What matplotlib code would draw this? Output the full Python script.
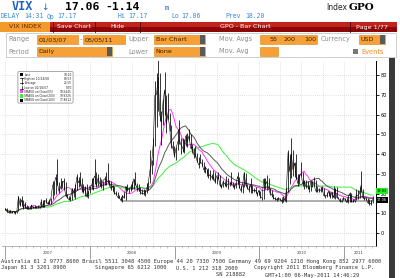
import numpy as np
import pandas as pd
import matplotlib
matplotlib.use("Agg")
import matplotlib.pyplot as plt
import matplotlib.dates as mdates
from matplotlib.patches import Rectangle, FancyBboxPatch

# weekly VIX bars (high / low / close), weeks ending Friday, Jan 2007 - May 2011
first_week = "2007-01-05"
vix_high = [
    # 2007
    12.75, 12.5, 11.3, 11.6, 11.3, 11.2, 11.2, 11.2, 19.0, 18.0, 18.9, 16.5, 15.5,
    14.0, 13.6, 13.2, 14.4, 13.8, 14.0, 13.6, 14.1, 13.8, 17.4, 16.5, 16.9, 17.9,
    16.3, 17.5, 18.0, 26.5, 26.0, 30.0, 37.5, 26.0, 28.0, 26.5, 28.0, 26.0, 20.0,
    19.0, 18.5, 22.9, 23.0, 25.0, 30.0, 28.5, 31.1, 28.0, 25.0, 24.0, 25.0, 21.5,
    # 2008
    24.0, 28.0, 28.0, 37.6, 31.0, 30.0, 28.5, 27.5, 26.6, 29.0, 31.0, 35.6, 27.0,
    26.5, 24.5, 24.0, 21.5, 21.0, 19.5, 18.5, 19.5, 20.5, 24.0, 25.0, 23.0, 25.0,
    26.5, 27.5, 30.8, 25.5, 25.0, 23.5, 22.5, 22.5, 22.0, 25.5, 26.0, 42.2, 37.0,
    48.4, 76.9, 81.2, 89.5, 81.0, 62.0, 68.0, 81.5, 70.0, 71.0, 61.0, 55.0, 46.5,
    # 2009
    44.0, 43.5, 52.7, 57.4, 48.0, 48.0, 47.5, 50.0, 51.0, 53.0, 50.0, 45.0, 43.0,
    44.0, 40.5, 38.5, 40.0, 37.5, 36.0, 34.0, 32.5, 33.0, 32.0, 30.0, 32.0, 31.0,
    29.0, 31.0, 29.5, 25.0, 27.0, 26.5, 29.0, 28.0, 26.0, 31.0, 26.0, 25.0, 26.0,
    31.0, 28.5, 24.5, 25.0, 31.0, 30.5, 25.0, 24.5, 28.0, 24.5, 23.0, 23.5, 21.0,
    # 2010
    22.0, 21.5, 18.5, 28.0, 28.0, 29.2, 28.0, 23.0, 22.0, 20.0, 18.5, 18.0, 18.5,
    18.0, 17.5, 18.5, 18.5, 22.8, 42.2, 40.0, 48.2, 42.0, 36.0, 40.0, 30.0, 30.0,
    36.0, 31.0, 27.0, 27.0, 26.5, 24.0, 26.5, 26.5, 28.5, 27.0, 24.0, 23.0, 23.5,
    24.0, 23.0, 19.5, 21.0, 21.5, 21.0, 21.0, 24.0, 23.0, 23.5, 18.5, 18.0, 17.0, 18.5,
    # 2011
    18.0, 17.5, 19.0, 21.0, 20.5, 17.5, 17.0, 22.5, 22.0, 23.5, 31.3, 22.5, 18.5,
    18.0, 18.0, 17.5, 16.5, 19.0,
]
vix_low = [
    # 2007
    11.5, 10.6, 10.0, 9.9, 10.1, 10.0, 9.7, 10.0, 11.0, 13.5, 13.5, 12.3, 12.8,
    12.2, 12.0, 12.0, 12.2, 12.6, 12.7, 12.6, 12.8, 12.7, 13.3, 13.0, 13.2, 15.0,
    14.5, 14.5, 14.8, 17.5, 19.5, 20.0, 24.5, 20.5, 22.5, 23.0, 22.0, 19.0, 17.9,
    16.9, 16.1, 17.0, 18.5, 17.5, 22.0, 23.5, 24.0, 20.8, 20.3, 18.6, 18.3, 18.0,
    # 2008
    20.5, 22.5, 22.0, 25.0, 23.5, 24.0, 24.0, 23.0, 21.8, 24.5, 24.5, 25.5, 24.0,
    21.6, 21.5, 20.0, 19.5, 17.8, 17.6, 16.3, 15.8, 17.8, 17.0, 21.5, 20.5, 21.5,
    22.5, 22.5, 24.5, 21.5, 21.5, 20.0, 19.7, 19.5, 19.0, 20.5, 22.0, 25.5, 30.0,
    34.5, 44.0, 54.0, 62.0, 57.0, 44.5, 55.0, 60.0, 51.0, 58.0, 52.0, 43.0, 42.0,
    # 2009
    38.5, 37.2, 42.0, 45.0, 40.0, 41.0, 40.5, 44.0, 43.5, 47.0, 42.5, 40.5, 38.0,
    38.5, 36.0, 33.0, 35.5, 34.0, 31.0, 30.5, 29.0, 28.0, 27.0, 27.5, 27.0, 25.5,
    25.0, 27.5, 24.0, 23.0, 23.5, 24.0, 23.5, 22.5, 24.0, 24.5, 23.5, 22.5, 23.0,
    25.0, 23.0, 21.0, 20.5, 23.5, 24.0, 22.5, 21.0, 20.5, 20.5, 21.0, 20.5, 19.0,
    # 2010
    19.5, 18.0, 16.9, 17.5, 22.5, 22.0, 22.5, 19.5, 19.0, 17.4, 16.8, 16.0, 16.5,
    16.5, 15.2, 15.5, 16.0, 15.5, 21.0, 25.0, 28.0, 29.0, 28.5, 27.5, 23.8, 25.0,
    29.0, 24.0, 22.5, 23.0, 22.5, 21.0, 21.5, 23.5, 24.0, 21.0, 21.0, 21.0, 21.0,
    21.5, 18.7, 18.0, 18.5, 19.0, 18.0, 18.0, 18.0, 17.5, 18.0, 17.5, 15.5, 15.5, 16.5,
    # 2011
    16.9, 15.5, 15.3, 15.8, 15.8, 15.5, 15.5, 16.5, 17.5, 18.0, 21.0, 18.0, 16.5,
    16.5, 15.3, 14.3, 14.3, 15.0,
]
vix_close = [
    # 2007
    12.1, 10.7, 10.4, 11.1, 10.1, 11.1, 10.0, 11.2, 18.6, 14.0, 16.8, 12.8, 14.6,
    12.3, 12.2, 12.1, 14.2, 12.9, 13.0, 12.9, 13.3, 13.1, 15.9, 13.3, 16.4, 16.2,
    14.8, 15.2, 17.7, 24.2, 25.2, 28.3, 25.0, 21.0, 23.4, 26.2, 26.1, 19.0, 18.0,
    17.0, 17.4, 22.4, 20.5, 23.0, 28.5, 25.5, 26.8, 22.9, 20.9, 22.6, 18.5, 20.3,
    # 2008
    23.9, 24.0, 27.2, 29.0, 24.0, 28.0, 25.0, 24.1, 26.5, 27.5, 27.0, 26.0, 25.7,
    22.5, 23.8, 20.1, 20.0, 18.2, 18.1, 16.5, 19.0, 17.8, 23.6, 21.7, 22.2, 23.4,
    23.1, 27.5, 25.0, 22.9, 22.6, 20.7, 20.0, 19.8, 20.7, 22.6, 25.7, 32.1, 35.7,
    45.1, 69.9, 70.3, 79.1, 59.9, 56.1, 66.3, 72.7, 55.3, 59.9, 54.3, 44.9, 43.4,
    # 2009
    39.2, 42.8, 46.1, 47.3, 44.8, 43.4, 41.3, 49.3, 46.4, 49.3, 43.0, 43.6, 39.7,
    39.7, 36.5, 34.6, 35.8, 35.3, 32.1, 33.1, 32.6, 28.9, 29.6, 28.2, 28.5, 25.9,
    29.0, 29.0, 24.3, 23.1, 25.9, 25.0, 24.0, 25.0, 24.8, 25.3, 24.1, 23.0, 25.6,
    28.7, 23.1, 21.5, 24.5, 30.7, 24.2, 22.8, 21.7, 24.5, 21.3, 21.6, 21.7, 19.5,
    # 2010
    21.7, 18.1, 17.9, 27.3, 24.6, 26.1, 22.7, 20.0, 19.5, 17.4, 17.6, 16.9, 17.8,
    17.0, 16.1, 18.4, 16.6, 22.1, 40.9, 31.2, 40.1, 32.1, 35.5, 28.8, 25.1, 29.0,
    30.1, 24.9, 26.3, 23.5, 23.5, 22.1, 26.2, 25.5, 24.5, 21.3, 21.3, 22.0, 21.7,
    22.5, 18.9, 19.1, 19.0, 21.2, 18.3, 20.6, 18.0, 22.2, 18.0, 17.8, 16.1, 16.0, 17.8,
    # 2011
    17.1, 15.5, 18.5, 20.0, 15.9, 15.7, 16.4, 19.2, 19.0, 20.1, 24.4, 18.0, 17.4,
    17.9, 15.3, 15.0, 14.8, 17.06,
]

# moving averages: 55 / 200 / 100 trading days -> weeks
sma_weeks = [11, 40, 20]
sma_colors = ["#ff3cff", "#3cf03c", "#5a5a5a"]

y_levels = [0, 10, 20, 30, 40, 50, 60, 70, 80]
year_labels = ["2007", "2008", "2009", "2010", "2011"]
support_level = 16.0
support_from = "2008-05-20"

legend_labels = ["Last", "High on 10/24/08", "Average", "Low on 02/16/07",
                 "SMAVG on Close(55)", "SMAVG on Close(200)", "SMAVG on Close(100)"]
legend_values = ["18.20", "89.53", "25.55", "9.70", "18.5445", "19.9326", "17.8612"]
legend_marks = ["black", "tick", "plus", "tick", "#ff3cff", "#3cf03c", "black"]

MONO = "DejaVu Sans Mono"
ORANGE = "#f7a035"
GREYTXT = "#8c8c8c"

dates = pd.date_range(first_week, periods=len(vix_close), freq="W-FRI") - pd.Timedelta(days=2)
close = pd.Series(vix_close, index=dates)

fig = plt.figure(figsize=(4.0, 2.78), dpi=100)

# pixel-space background layer (header, form, footer)
bg = fig.add_axes([0, 0, 1, 1], zorder=0)
bg.set_xlim(0, 400)
bg.set_ylim(278, 0)
bg.axis("off")

# --- header line 1
bg.text(12, 7, "VIX", color="#2160c4", fontsize=8.5, fontweight="bold", family=MONO, va="center")
bg.text(41, 7, "\u2193", color="#2160c4", fontsize=6.5, va="center")
bg.text(65, 7, "17.06", color="black", fontsize=8.2, fontweight="bold", family=MONO, va="center")
bg.text(105, 7, "-1.14", color="black", fontsize=8.2, fontweight="bold", family=MONO, va="center")
bg.text(165, 8, "m", color="#2160c4", fontsize=5, family=MONO, va="center")
bg.text(326, 7, "Index", color="#222222", fontsize=5.5, va="center")
bg.text(349, 7, "GPO", color="black", fontsize=7.5, fontweight="bold", family="DejaVu Serif", va="center")

# --- header line 2
blue2 = "#3b8ad6"
for x, s in [(1, "DELAY"), (24, "14:31"), (47, "Op"), (57, "17.17"), (118, "Hi"),
             (128, "17.17"), (171, "Lo"), (181, "17.06"), (225, "Prev"), (245, "18.20")]:
    bg.text(x, 16.5, s, color=blue2, fontsize=4.7, family=MONO, va="center")

# --- red menu bar
bg.add_patch(Rectangle((0, 22), 397, 5, color="#c0241c", lw=0))
bg.add_patch(Rectangle((0, 27), 397, 5, color="#8c0808", lw=0))
bg.add_patch(Rectangle((0, 22), 50, 10, color="#f39a2c", lw=0))
bg.text(25, 27, "VIX INDEX", color="#6a2a00", fontsize=4.6, ha="center", va="center")
for x in [53, 95, 140, 350]:
    bg.plot([x, x], [22, 32], color="#4a0000", lw=0.6)
bg.text(74, 27, "Save Chart", color="white", fontsize=4.4, ha="center", va="center")
bg.text(117, 27, "Hide", color="white", fontsize=4.4, ha="center", va="center")
bg.text(245, 27, "GPO - Bar Chart", color="white", fontsize=4.6, ha="center", va="center")
bg.text(372, 27, "Page 1/77", color="white", fontsize=4.6, ha="center", va="center")

# --- option form
bg.add_patch(Rectangle((6, 32.5), 390, 24.5, facecolor="white", edgecolor="#c8c8c8", lw=0.6))


def field(x0, x1, y, text="", drop=False):
    bg.add_patch(Rectangle((x0, y - 4.2), x1 - x0, 8.4, facecolor=ORANGE, edgecolor="#d88418", lw=0.4))
    if text:
        bg.text(x0 + 1.5, y, text, color="#3a2200", fontsize=4.6, va="center")
    if drop:
        bg.add_patch(Rectangle((x1 - 5, y - 4.2), 5, 8.4, facecolor="#5a5a5a", lw=0))


row1, row2 = 39.5, 51.5
bg.text(8, row1, "Range", color=GREYTXT, fontsize=4.8, va="center")
field(37, 78, row1, "01/03/07")
bg.text(79.5, row1, "-", color=GREYTXT, fontsize=4.8, va="center")
field(83, 125, row1, "05/05/11")
bg.text(128, row1, "Upper", color=GREYTXT, fontsize=4.8, va="center")
field(154, 205, row1, "Bar Chart", drop=True)
bg.text(219, row1, "Mov. Avgs", color=GREYTXT, fontsize=4.8, va="center")
field(260, 278, row1, "")
bg.text(277, row1, "55", color="#3a2200", fontsize=4.6, va="center", ha="right")
field(279, 297, row1, "")
bg.text(296, row1, "200", color="#3a2200", fontsize=4.6, va="center", ha="right")
field(298, 317, row1, "")
bg.text(316, row1, "100", color="#3a2200", fontsize=4.6, va="center", ha="right")
bg.text(321, row1, "Currency", color=GREYTXT, fontsize=4.8, va="center")
field(359, 385, row1, "USD", drop=True)

bg.text(8, row2, "Period", color=GREYTXT, fontsize=4.8, va="center")
field(37, 112, row2, "Daily", drop=True)
bg.text(128, row2, "Lower", color=GREYTXT, fontsize=4.8, va="center")
field(154, 205, row2, "None", drop=True)
bg.text(219, row2, "Mov. Avg", color=GREYTXT, fontsize=4.8, va="center")
field(260, 278, row2, "")
bg.add_patch(Rectangle((353, row2 - 2.5), 5, 5, facecolor="#777777", lw=0))
bg.text(361, row2, "Events", color="#f08a1c", fontsize=4.8, va="center")

# --- right scroll bar
bg.add_patch(Rectangle((389, 58), 6, 220, color="#3a3a3a", lw=0))

# --- footer
foot = [
    (1, 261, "Australia 61 2 9777 8600 Brazil 5511 3048 4500 Europe 44 20 7330 7500 Germany 49 69 9204 1210 Hong Kong 852 2977 6000"),
    (1, 268, "Japan 81 3 3201 8900"),
    (95, 268, "Singapore 65 6212 1000"),
    (176, 268, "U.S. 1 212 318 2000"),
    (254, 268, "Copyright 2011 Bloomberg Finance L.P."),
    (216, 275, "SN 218882"),
    (265, 275, "GMT+1:00 06-May-2011 14:46:29"),
]
for x, y, s in foot:
    bg.text(x, y, s, color="#333333", fontsize=3.9, family=MONO, va="center")

# --- price chart
ax = fig.add_axes([2 / 400, 1 - 246 / 278, 374 / 400, 185 / 278], zorder=1)
ax.patch.set_alpha(0)
x_left = pd.Timestamp("2006-12-19")
x_right = pd.Timestamp("2011-05-19")
ax.set_xlim(x_left, x_right)
ax.set_ylim(-6.6, 87.3)

for q in pd.date_range("2007-01-01", "2011-04-01", freq="QS"):
    ax.axvline(q, color="#c4c4c4", lw=0.5, ls=(0, (1, 2)), zorder=0)
for v in y_levels:
    ax.axhline(v, color="#c4c4c4", lw=0.5, ls=(0, (1, 2)), zorder=0)

ax.hlines(support_level, pd.Timestamp(support_from), dates[-1], color="#a0a0a0", lw=1.2, zorder=1)

ax.vlines(dates, vix_low, vix_high, color="black", lw=0.55, zorder=3)
ax.plot(dates, vix_close, color="black", lw=0.4, zorder=3)

for w, c in zip(sma_weeks, sma_colors):
    sma = close.rolling(w, min_periods=1).mean()
    ax.plot(dates, sma.values, color=c, lw=0.7, zorder=2)

for s in ["top", "left"]:
    ax.spines[s].set_visible(False)
ax.spines["right"].set_color("black")
ax.spines["right"].set_linewidth(0.7)
ax.spines["bottom"].set_color("#9a9a9a")
ax.spines["bottom"].set_linewidth(0.5)

ax.yaxis.tick_right()
ax.set_yticks(y_levels)
ax.set_yticklabels([str(v) for v in y_levels])
ax.tick_params(axis="y", labelsize=3.6, length=2, width=0.6, pad=1.5, colors="black")

year_starts = [pd.Timestamp(f"{y}-01-01") for y in year_labels]
ax.set_xticks(year_starts)
ax.set_xticklabels([])
ax.xaxis.set_minor_locator(mdates.MonthLocator())
ax.tick_params(axis="x", which="major", length=9, width=0.5, color="#777777")
ax.tick_params(axis="x", which="minor", length=1.5, width=0.4, color="#999999")

bounds = year_starts + [dates[-1]]
for i, lab in enumerate(year_labels):
    mid = bounds[i] + (bounds[i + 1] - bounds[i]) / 2
    ax.text(mid, -0.04, lab, transform=ax.get_xaxis_transform(), fontsize=2.8,
            ha="center", va="center", color="#444444")

# right-hand price flags (stacked as on the terminal)
ax.text(1.002, 21.4, "19.93", transform=ax.get_yaxis_transform(), fontsize=2.5,
        color="black", va="center", ha="left", clip_on=False,
        bbox=dict(boxstyle="square,pad=0.25", fc="#22ee22", ec="none"))
ax.text(1.002, 16.6, "17.06", transform=ax.get_yaxis_transform(), fontsize=2.5,
        color="white", va="center", ha="left", clip_on=False,
        bbox=dict(boxstyle="square,pad=0.25", fc="black", ec="none"))

# --- legend box
fg = fig.add_axes([0, 0, 1, 1], zorder=2)
fg.set_xlim(0, 400)
fg.set_ylim(278, 0)
fg.axis("off")
fg.add_patch(FancyBboxPatch((18.5, 72), 54, 30.5, boxstyle="round,pad=0.6,rounding_size=1.5",
                            facecolor="white", edgecolor="#9a9a9a", lw=0.6))
for i, (lab, val, mk) in enumerate(zip(legend_labels, legend_values, legend_marks)):
    y = 74.8 + i * 4.25
    if mk == "tick":
        fg.plot([21.5, 21.5], [y - 1.5, y + 1.5], color="black", lw=0.5)
        fg.plot([20.4, 22.6], [y - 1.5 if i == 1 else y + 1.5] * 2, color="black", lw=0.5)
    elif mk == "plus":
        fg.plot([20.4, 22.6], [y, y], color="black", lw=0.5)
        fg.plot([21.5, 21.5], [y - 1.1, y + 1.1], color="black", lw=0.5)
    else:
        fg.add_patch(Rectangle((20, y - 1.6), 3.2, 3.2, color=mk, lw=0))
    fg.text(24.5, y, lab, fontsize=2.1, va="center", color="#222222")
    fg.text(72, y, val, fontsize=2.1, va="center", ha="right", color="#222222")

fig.savefig("out.png", dpi=100)
